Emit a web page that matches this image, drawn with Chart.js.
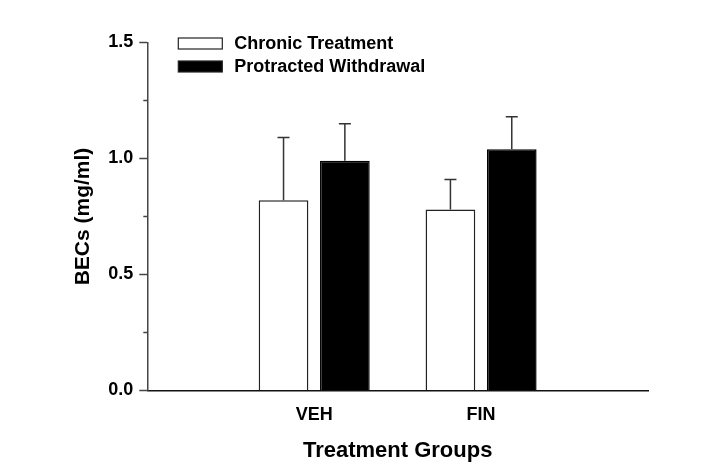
<!DOCTYPE html>
<html lang="en">
<head>
    <meta charset="UTF-8">
    <title>BECs by Treatment Group</title>
    <script src="https://cdn.jsdelivr.net/npm/chart.js"></script>
    <style>
        body { margin: 0; background: #fff; }
        #wrap { width: 706px; height: 476px; }
    </style>
</head>
<body>
    <div id="wrap"><canvas id="becChart"></canvas></div>

    <script>
        // data
        var groups = ['VEH', 'FIN'];
        var chronic = [0.82, 0.78];
        var chronicErr = [0.27, 0.13];
        var protracted = [0.99, 1.04];
        var protractedErr = [0.16, 0.14];
        var majorTicks = [0, 0.5, 1.0, 1.5];
        var minorTicks = [0.25, 0.75, 1.25];

        // empty slots either side so the two groups sit at 1/3 and 2/3 of the axis
        var labels = [''].concat(groups, ['']);
        function pad(arr) { return [null].concat(arr, [null]); }

        var font = "'Liberation Sans', Arial, Helvetica, sans-serif";
        Chart.defaults.font.family = font;
        Chart.defaults.color = '#000';

        // upward-only error bars
        var errorBars = {
            id: 'errorBars',
            afterDatasetsDraw: function(chart) {
                var ctx = chart.ctx;
                var yScale = chart.scales.y;
                ctx.save();
                ctx.strokeStyle = '#333';
                ctx.lineWidth = 1.5;
                chart.data.datasets.forEach(function(ds, i) {
                    var meta = chart.getDatasetMeta(i);
                    meta.data.forEach(function(bar, j) {
                        var v = ds.data[j];
                        if (v == null) return;
                        var top = yScale.getPixelForValue(v + ds.errors[j]);
                        ctx.beginPath();
                        ctx.moveTo(bar.x, bar.y);
                        ctx.lineTo(bar.x, top);
                        ctx.moveTo(bar.x - 6, top);
                        ctx.lineTo(bar.x + 6, top);
                        ctx.stroke();
                    });
                });
                ctx.restore();
            }
        };

        // short minor ticks on the y axis
        var minorTickMarks = {
            id: 'minorTickMarks',
            afterDraw: function(chart) {
                var ctx = chart.ctx;
                var yScale = chart.scales.y;
                var x = chart.chartArea.left;
                ctx.save();
                ctx.strokeStyle = '#444';
                ctx.lineWidth = 1.5;
                minorTicks.forEach(function(t) {
                    var y = yScale.getPixelForValue(t);
                    ctx.beginPath();
                    ctx.moveTo(x - 4, y);
                    ctx.lineTo(x, y);
                    ctx.stroke();
                });
                ctx.restore();
            }
        };

        // stacked legend in the top left of the plot
        var stackedLegend = {
            id: 'stackedLegend',
            afterDraw: function(chart) {
                var ctx = chart.ctx;
                var area = chart.chartArea;
                var x = area.left + 31;
                var y = area.top + 1;
                ctx.save();
                ctx.font = 'bold 18px ' + font;
                ctx.textBaseline = 'middle';
                ctx.textAlign = 'left';
                chart.data.datasets.forEach(function(ds, i) {
                    var cy = y + i * 23;
                    ctx.fillStyle = ds.backgroundColor;
                    ctx.fillRect(x, cy - 5.5, 44, 11);
                    ctx.strokeStyle = '#222';
                    ctx.lineWidth = 1.2;
                    ctx.strokeRect(x, cy - 5.5, 44, 11);
                    ctx.fillStyle = '#000';
                    ctx.fillText(ds.label, x + 56, cy + 1);
                });
                ctx.restore();
            }
        };

        var ctx = document.getElementById('becChart').getContext('2d');
        var becChart = new Chart(ctx, {
            type: 'bar',
            data: {
                labels: labels,
                datasets: [
                    {
                        label: 'Chronic Treatment',
                        data: pad(chronic),
                        errors: pad(chronicErr),
                        backgroundColor: '#fff',
                        borderColor: '#222',
                        borderWidth: 1.5
                    },
                    {
                        label: 'Protracted Withdrawal',
                        data: pad(protracted),
                        errors: pad(protractedErr),
                        backgroundColor: '#000',
                        borderColor: '#000',
                        borderWidth: 1.5
                    }
                ]
            },
            options: {
                responsive: true,
                maintainAspectRatio: false,
                animation: false,
                categoryPercentage: 0.735,
                barPercentage: 0.81,
                layout: { padding: { top: 42.5, right: 58, bottom: 0, left: 0 } },
                plugins: {
                    legend: { display: false },
                    tooltip: { enabled: false }
                },
                scales: {
                    x: {
                        offset: false,
                        grid: { display: false, drawTicks: false },
                        border: { color: '#111', width: 1.5 },
                        ticks: {
                            padding: 14,
                            maxRotation: 0,
                            autoSkip: false,
                            font: { size: 18, weight: 'bold' }
                        },
                        title: {
                            display: true,
                            text: 'Treatment Groups',
                            font: { size: 22, weight: 'bold' },
                            padding: { top: 0, bottom: 12 }
                        },
                        afterFit: function(scale) { scale.height = 85.5; }
                    },
                    y: {
                        min: 0,
                        max: 1.5,
                        afterBuildTicks: function(scale) {
                            scale.ticks = majorTicks.map(function(v) { return { value: v }; });
                        },
                        grid: {
                            drawOnChartArea: false,
                            tickLength: 8,
                            tickColor: '#444',
                            tickWidth: 1.5
                        },
                        border: { color: '#444', width: 1.5 },
                        ticks: {
                            padding: 6,
                            font: { size: 18, weight: 'bold' },
                            callback: function(v) { return Number(v).toFixed(1); }
                        },
                        title: {
                            display: true,
                            text: 'BECs (mg/ml)',
                            font: { size: 21, weight: 'bold' },
                            padding: { top: 71, bottom: 0 }
                        },
                        afterFit: function(scale) { scale.width = 147.3; }
                    }
                }
            },
            plugins: [errorBars, minorTickMarks, stackedLegend]
        });
    </script>
</body>
</html>
